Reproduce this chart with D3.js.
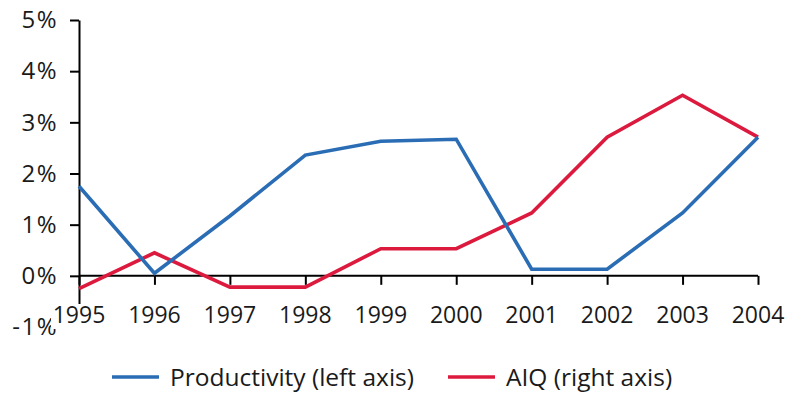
<!DOCTYPE html>
<html>
<head>
<meta charset="utf-8">
<script src="https://cdn.jsdelivr.net/npm/d3@7"></script>
<style>
  html, body { margin: 0; padding: 0; background: #fff; }
  svg { display: block; }
  svg text { font-family: "Open Sans", "Noto Sans", sans-serif; }
</style>
</head>
<body>
<svg id="chart" width="787" height="393"></svg>
<script>
// Years on the category axis
const years = ["1995", "1996", "1997", "1998", "1999", "2000", "2001", "2002", "2003", "2004"];
// Labour productivity growth, % (left axis)
const productivity = [1.75, 0.05, 1.17, 2.36, 2.63, 2.67, 0.13, 0.13, 1.23, 2.71];
// AIQ, % (right axis)
const aiq = [-0.25, 0.45, -0.22, -0.22, 0.53, 0.53, 1.23, 2.71, 3.53, 2.71];
// Left-axis tick values
const yTicks = [-1, 0, 1, 2, 3, 4, 5];

(function () {
const svg = d3.select("#chart");
const mLeft = 79, mRight = 758, mTop = 20, mBottom = 327;

const x = d3.scalePoint().domain(years).range([mLeft, mRight]);
const yLeft = d3.scaleLinear().domain([-1, 5]).range([mBottom, mTop]);
// The right axis shares the same range; it is not drawn
const yRight = d3.scaleLinear().domain([-1, 5]).range([mBottom, mTop]);

// Y axis
const yAxis = svg.append("g")
  .attr("transform", `translate(${mLeft},0)`)
  .call(d3.axisLeft(yLeft).tickValues(yTicks).tickFormat(d => d + "%")
    .tickSizeInner(9).tickSizeOuter(0).tickPadding(12));
yAxis.attr("font-family", null);
yAxis.select(".domain").attr("stroke", "#000").attr("stroke-width", 2);
yAxis.selectAll(".tick line").attr("stroke", "#000").attr("stroke-width", 2)
  .filter(d => d === -1).remove();
yAxis.selectAll(".tick text").attr("fill", "#1a1a1a").style("font-size", "24px")
  .attr("letter-spacing", "1.5px");

// X axis along the zero line
const xAxis = svg.append("g")
  .attr("transform", `translate(0,${yLeft(0)})`)
  .call(d3.axisBottom(x).tickSizeInner(9).tickSizeOuter(0).tickPadding(0).tickFormat(() => ""));
xAxis.select(".domain").attr("d", `M${mLeft},0H${mRight}`).attr("stroke", "#000").attr("stroke-width", 2);
xAxis.selectAll(".tick line").attr("stroke", "#000").attr("stroke-width", 2);

// Category labels sit on white boxes that mask the axis behind them
const labelY = 315;
const lab = svg.append("g").selectAll("g").data(years).join("g")
  .attr("transform", d => `translate(${x(d)},${labelY})`);
lab.append("rect").attr("x", -28).attr("y", -11).attr("width", 56).attr("height", 25).attr("fill", "#fff");
lab.append("text")
  .attr("text-anchor", "middle").attr("dy", "0.36em")
  .attr("fill", "#1a1a1a").style("font-size", "23px")
  .text(d => d);

// Series lines
const blue = "#2a6db5", red = "#dc1a3e";
const lineL = d3.line().x((d, i) => x(years[i])).y(d => yLeft(d));
const lineR = d3.line().x((d, i) => x(years[i])).y(d => yRight(d));

svg.append("path").datum(aiq).attr("d", lineR)
  .attr("fill", "none").attr("stroke", red).attr("stroke-width", 3.6).attr("stroke-linejoin", "miter");
svg.append("path").datum(productivity).attr("d", lineL)
  .attr("fill", "none").attr("stroke", blue).attr("stroke-width", 3.6).attr("stroke-linejoin", "miter");

// Legend
const legend = [
  { label: "Productivity (left axis)", color: blue, x: 112 },
  { label: "AIQ (right axis)", color: red, x: 448 }
];
const lg = svg.append("g").selectAll("g").data(legend).join("g")
  .attr("transform", d => `translate(${d.x},377)`);
lg.append("line").attr("x1", 0).attr("x2", 47).attr("y1", 0).attr("y2", 0)
  .attr("stroke", d => d.color).attr("stroke-width", 3.6);
lg.append("text").attr("x", 58).attr("dy", "0.36em")
  .attr("fill", "#1a1a1a").style("font-size", "24.5px")
  .text(d => d.label);
})();
</script>
</body>
</html>
